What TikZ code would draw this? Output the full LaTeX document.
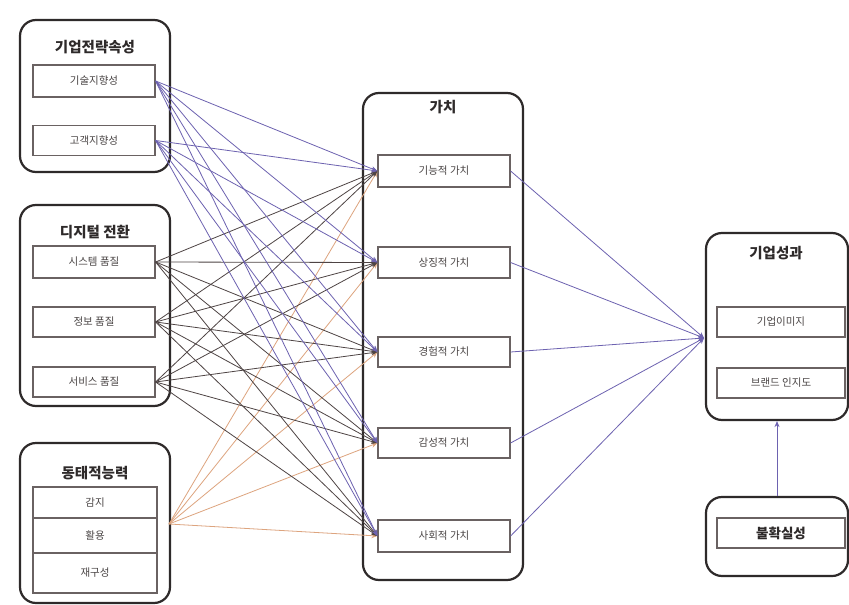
\documentclass[tikz,border=0pt]{standalone}
\usepackage{fontspec}
\setmainfont{Noto Sans CJK KR}
\usetikzlibrary{arrows.meta}
\definecolor{grpline}{HTML}{2E2A2A}
\definecolor{boxline}{HTML}{6A6262}
\definecolor{txtgray}{HTML}{4A4545}
\definecolor{purp}{HTML}{6D62B0}
\definecolor{darkln}{HTML}{4E4444}
\definecolor{orng}{HTML}{DDA47E}
\tikzset{
  grp/.style={draw=grpline, line width=2.2pt, rounded corners=16pt, inner sep=0pt},
  itembox/.style={draw=boxline, line width=1.2pt, inner sep=0pt, font=\fontsize{10.5}{12}\selectfont, text=txtgray},
  cell/.style={draw=boxline, line width=1.2pt, inner sep=0pt, font=\fontsize{10.5}{12}\selectfont, text=txtgray, minimum width=124pt},
  title/.style={font=\bfseries\fontsize{14.5}{16}\selectfont, text=grpline},
  tip/.style={-{Stealth[length=6pt,width=5pt]}},
  lnp/.style={draw=purp, line width=0.8pt, tip},
  lnd/.style={draw=darkln, line width=0.8pt, tip},
  lno/.style={draw=orng, line width=0.8pt, tip},
}
\begin{document}
\begin{tikzpicture}[x=1pt,y=-1pt]
\useasboundingbox (0,0) rectangle (849,605);
\fill[white] (0,0) rectangle (849,605);

% group frames
\node[grp, minimum width=150pt, minimum height=152pt] (g1) at (95,96) {};
\node[grp, minimum width=150pt, minimum height=201pt] (g2) at (95,305.5) {};
\node[grp, minimum width=150pt, minimum height=160pt] (g3) at (95,523) {};
\node[grp, minimum width=160pt, minimum height=487pt] (gv) at (443,336.5) {};
\node[grp, minimum width=142pt, minimum height=187pt] (gp) at (777,326.5) {};
\node[grp, minimum width=142pt, minimum height=79pt] (gu) at (777,536.5) {};

% group titles
\node[title] (t1) at (95,47) {기업전략속성};
\node[title] (t2) at (95,232) {디지털 전환};
\node[title] (t3) at (95,473) {동태적능력};
\node[title] (tv) at (443,107) {가치};
\node[title] (tp) at (776,253) {기업성과};

% firm strategy items
\node[itembox, minimum width=122pt, minimum height=32pt] (tech) at (94,81) {기술지향성};
\node[itembox, minimum width=122pt, minimum height=30pt] (cust) at (94,140.5) {고객지향성};

% digital transformation items
\node[itembox, minimum width=122pt, minimum height=32pt] (sys) at (94,262) {시스템 품질};
\node[itembox, minimum width=122pt, minimum height=30pt] (info) at (94,322) {정보 품질};
\node[itembox, minimum width=122pt, minimum height=30pt] (serv) at (94,382) {서비스 품질};

% dynamic capability table
\node[cell, minimum height=31pt] (sense) at (95,502.5) {감지};
\node[cell, minimum height=35pt] (seize) at (95,535.5) {활용};
\node[cell, minimum height=40pt] (reconf) at (95,573) {재구성};
\coordinate (dyn) at (169,524);

% value items
\node[itembox, minimum width=132pt, minimum height=32pt] (v1) at (444,171) {기능적 가치};
\node[itembox, minimum width=132pt, minimum height=31pt] (v2) at (444,262.5) {상징적 가치};
\node[itembox, minimum width=132pt, minimum height=30pt] (v3) at (444,352) {경험적 가치};
\node[itembox, minimum width=132pt, minimum height=30pt] (v4) at (444,443) {감성적 가치};
\node[itembox, minimum width=132pt, minimum height=32pt] (v5) at (444,536) {사회적 가치};

% performance items
\node[itembox, minimum width=128pt, minimum height=30pt] (img) at (781,322) {기업이미지};
\node[itembox, minimum width=128pt, minimum height=30pt] (brand) at (781,383) {브랜드 인지도};
\node[itembox, minimum width=128pt, minimum height=30pt, font=\bfseries\fontsize{13.5}{15}\selectfont, text=grpline] (unc) at (781,533) {불확실성};
\coordinate (perf) at (704,338);

% connectors into the value items
\foreach \v in {v1,v2,v3,v4,v5}{
  \draw[lno] (dyn) -- (\v.west);
}
\foreach \s in {sys,info,serv}{
  \foreach \v in {v1,v2,v3,v4,v5}{
    \draw[lnd] (\s.east) -- (\v.west);
  }
}
\foreach \s in {tech,cust}{
  \foreach \v in {v1,v2,v3,v4,v5}{
    \draw[lnp] (\s.east) -- (\v.west);
  }
}

% connectors into firm performance
\foreach \v in {v1,v2,v3,v4,v5}{
  \draw[lnp] (\v.east) -- (perf);
}
\draw[lnp] (gu.north) -- (gp.south);
\end{tikzpicture}
\end{document}
